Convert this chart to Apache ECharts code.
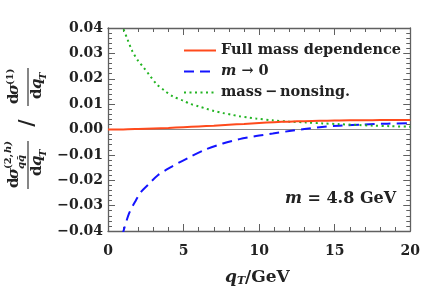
<!DOCTYPE html>
<html><head><meta charset="utf-8">
<script src="https://cdn.jsdelivr.net/npm/echarts@6/dist/echarts.min.js"></script>
<style>html,body{margin:0;padding:0;background:#fff}#c{width:423px;height:289px}</style>
</head><body><div id="c"></div>
<script>
// ---- data ----
var fullQ   = [0, 1, 2, 3, 4, 5, 6, 7, 8, 9, 10, 11, 12, 13, 14, 15, 16, 17, 18, 19, 20];
var fullV   = [0, 0.00003, 0.0002, 0.0004, 0.0006, 0.0009, 0.0012, 0.0015, 0.0019, 0.0022, 0.0026, 0.0029, 0.0031, 0.0033, 0.0034, 0.0035, 0.0036, 0.0036, 0.0037, 0.0037, 0.0037];
var zeroQ   = [0.95, 1.0, 1.4, 1.8, 2.2, 2.7, 3.3, 4.2, 5.3, 6.5, 7.6, 8.7, 9.8, 10.9, 12.0, 13.0, 14.0, 15.3, 17.0, 18.5, 20];
var zeroV   = [-0.042, -0.0405, -0.033, -0.0284, -0.0245, -0.0215, -0.018, -0.0147, -0.0112, -0.0078, -0.0055, -0.0038, -0.0026, -0.0016, -0.0006, 0.0002, 0.0009, 0.0015, 0.002, 0.0023, 0.0025];
var nonsQ   = [0.95, 1.0, 1.3, 1.6, 2.0, 2.35, 2.8, 3.2, 3.7, 4.3, 5.0, 5.4, 6.0, 6.5, 7.0, 7.6, 8.2, 8.7, 9.3, 9.8, 10.9, 12.0, 13.1, 14.2, 15.3, 16.5, 17.5, 18.7, 20];
var nonsV   = [0.0415, 0.040, 0.0354, 0.031, 0.027, 0.0245, 0.021, 0.018, 0.0155, 0.013, 0.0113, 0.0102, 0.0091, 0.0082, 0.0073, 0.0065, 0.0058, 0.0052, 0.0047, 0.0043, 0.0036, 0.0031, 0.0028, 0.0024, 0.0021, 0.0018, 0.0015, 0.0013, 0.0011];
var seriesNames = ['Full mass dependence', 'm \u2192 0', 'mass\u2009\u2212\u2009nonsing.'];
var xTicks = [0, 5, 10, 15, 20];
var yTicks = [-0.04, -0.03, -0.02, -0.01, 0, 0.01, 0.02, 0.03, 0.04];

function pairs(q, v){ return q.map(function(x,i){ return [x, v[i]]; }); }
var SERIF = '"DejaVu Serif", serif';
var frame = '#606060';
function yfmt(v){ var a = Math.abs(v) < 1e-9 ? 0 : v; return (a < 0 ? '\u2212' : '') + Math.abs(a).toFixed(2); }

var chart = echarts.init(document.getElementById('c'), null, {renderer:'canvas'});
var axisCommon = {
  axisLine:{show:true, onZero:false, lineStyle:{color:frame, width:1.3}},
  axisTick:{show:true, inside:true, length:7, lineStyle:{color:frame, width:1}},
  minorTick:{show:true, splitNumber:5, length:4, lineStyle:{color:frame, width:1}},
  splitLine:{show:false}
};
function mk(base, extra){ var o = JSON.parse(JSON.stringify(base)); for (var k in extra) o[k] = extra[k]; return o; }

chart.setOption({
  animation:false,
  grid:{left:108, right:10, top:28, bottom:58},
  legend:{
    orient:'vertical', left:178, top:38, itemWidth:32, itemHeight:14, itemGap:6,
    data: seriesNames,
    itemStyle:{color:'rgba(0,0,0,0)', borderWidth:0, opacity:0},
    textStyle:{fontFamily:SERIF, fontWeight:'bold', fontSize:14.5, color:'#222',
      rich:{i:{fontFamily:SERIF, fontStyle:'italic', fontWeight:'bold', fontSize:14.5, color:'#222'},
            n:{fontFamily:SERIF, fontWeight:'bold', fontSize:14.5, color:'#222'}}},
    formatter:function(n){ if (n === seriesNames[1]) return '{i|m}{n| \u2192 0}'; return n; }
  },
  xAxis:[
    mk(axisCommon, {type:'value', min:0, max:20, interval:5, position:'bottom',
      axisLabel:{show:true, margin:13, fontFamily:SERIF, fontWeight:'bold', fontSize:14, color:'#222',
        formatter:function(v){ return xTicks.indexOf(v) >= 0 ? String(v) : ''; }}}),
    mk(axisCommon, {type:'value', min:0, max:20, interval:5, position:'top', axisLabel:{show:false}})
  ],
  yAxis:[
    mk(axisCommon, {type:'value', min:-0.04, max:0.04, interval:0.01, position:'left',
      axisLabel:{show:true, margin:5, fontFamily:SERIF, fontWeight:'bold', fontSize:14, color:'#222', formatter:yfmt}}),
    mk(axisCommon, {type:'value', min:-0.04, max:0.04, interval:0.01, position:'right', axisLabel:{show:false}})
  ],
  series:[
    {name:seriesNames[0], type:'line', data:pairs(fullQ, fullV), smooth:0.3, symbol:'none', z:5,
     lineStyle:{color:'#ff4a1c', width:2, type:'solid'}, itemStyle:{color:'#ff4a1c'},
     markLine:{silent:true, symbol:'none', label:{show:false}, lineStyle:{color:'#8a8a8a', width:1.2, type:'solid'},
       data:[{yAxis:0}], z:1}},
    {name:seriesNames[1], type:'line', data:pairs(zeroQ, zeroV), smooth:0.3, symbol:'none', z:4,
     lineStyle:{color:'#1414ff', width:2, type:[10,6]}, itemStyle:{color:'#1414ff'}},
    {name:seriesNames[2], type:'line', data:pairs(nonsQ, nonsV), smooth:0.3, symbol:'none', z:4,
     lineStyle:{color:'#22b422', width:2, type:[2,3.5]}, itemStyle:{color:'#22b422'}}
  ],
  graphic:[
    {type:'text', left:285, top:191, style:{rich:{
        i:{font:'italic bold 16px ' + SERIF, fill:'#222'},
        n:{font:'bold 16px ' + SERIF, fill:'#222'}},
      text:'{i|m}{n| = 4.8 GeV}'}},
    {type:'text', left:225, top:269, style:{rich:{
        i:{font:'italic bold 17px ' + SERIF, fill:'#222'},
        s:{font:'italic bold 11px ' + SERIF, fill:'#222', padding:[8,0,0,0]},
        n:{font:'bold 17px ' + SERIF, fill:'#222'}},
      text:'{i|q}{s|T}{n|/GeV}'}},
    {type:'group', x:28, y:128, rotation:Math.PI/2, children:[
      // first fraction
      {type:'text', x:-60, y:-6, style:{text:'d', font:'bold 15px ' + SERIF, fill:'#222', textVerticalAlign:'bottom'}},
      {type:'text', x:-51, y:-6, style:{text:'\u03c3', font:'italic bold 15px ' + SERIF, fill:'#222', textVerticalAlign:'bottom'}},
      {type:'text', x:-41, y:-15, style:{text:'(2,', font:'bold 10px ' + SERIF, fill:'#222', textVerticalAlign:'bottom'}},
      {type:'text', x:-25, y:-15, style:{text:'h)', font:'italic bold 10px ' + SERIF, fill:'#222', textVerticalAlign:'bottom'}},
      {type:'text', x:-41, y:-2, style:{text:'qq\u0304', font:'italic bold 10px ' + SERIF, fill:'#222', textVerticalAlign:'bottom'}},
      {type:'line', shape:{x1:-61, y1:0, x2:-13, y2:0}, style:{stroke:'#222', lineWidth:1.1}},
      {type:'text', x:-48, y:2, style:{text:'d', font:'bold 15px ' + SERIF, fill:'#222', textVerticalAlign:'top'}},
      {type:'text', x:-38, y:2, style:{text:'q', font:'italic bold 15px ' + SERIF, fill:'#222', textVerticalAlign:'top'}},
      {type:'text', x:-29, y:10, style:{text:'T', font:'italic bold 10px ' + SERIF, fill:'#222', textVerticalAlign:'top'}},
      // slash
      {type:'text', x:5, y:0, style:{text:'/', font:'bold 20px ' + SERIF, fill:'#222', textAlign:'center', textVerticalAlign:'middle'}},
      // second fraction
      {type:'text', x:24, y:-6, style:{text:'d', font:'bold 15px ' + SERIF, fill:'#222', textVerticalAlign:'bottom'}},
      {type:'text', x:33, y:-6, style:{text:'\u03c3', font:'italic bold 15px ' + SERIF, fill:'#222', textVerticalAlign:'bottom'}},
      {type:'text', x:43, y:-13, style:{text:'(1)', font:'bold 10px ' + SERIF, fill:'#222', textVerticalAlign:'bottom'}},
      {type:'line', shape:{x1:22, y1:0, x2:60, y2:0}, style:{stroke:'#222', lineWidth:1.1}},
      {type:'text', x:29, y:2, style:{text:'d', font:'bold 15px ' + SERIF, fill:'#222', textVerticalAlign:'top'}},
      {type:'text', x:39, y:2, style:{text:'q', font:'italic bold 15px ' + SERIF, fill:'#222', textVerticalAlign:'top'}},
      {type:'text', x:48, y:10, style:{text:'T', font:'italic bold 10px ' + SERIF, fill:'#222', textVerticalAlign:'top'}}
    ]}
  ]
});
</script></body></html>
